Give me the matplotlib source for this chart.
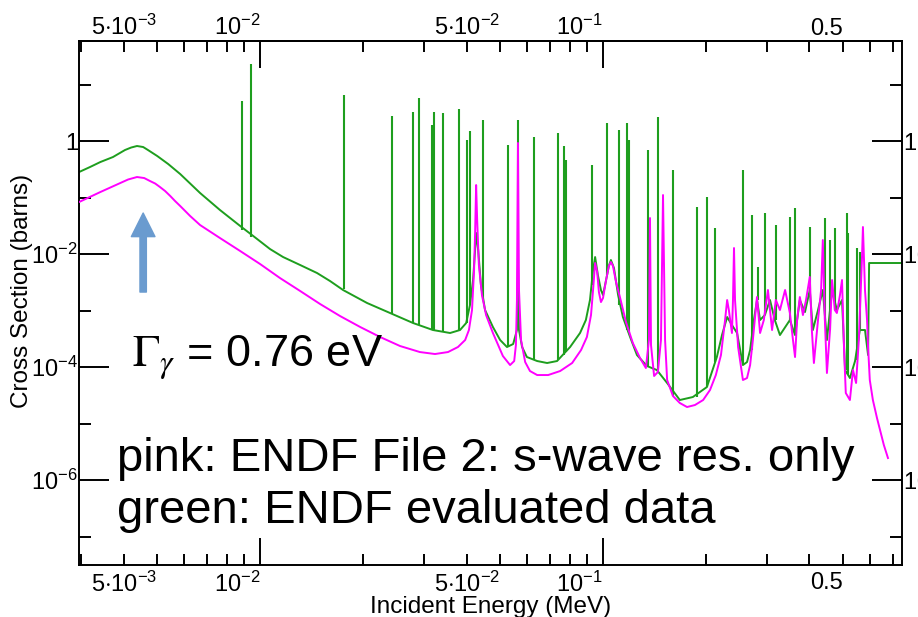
import numpy as np
import matplotlib
matplotlib.use("Agg")
import matplotlib.pyplot as plt
from matplotlib.ticker import FixedLocator, FuncFormatter

plt.rcParams['font.family'] = ['Liberation Sans', 'DejaVu Sans']
plt.rcParams['mathtext.fontset'] = 'custom'
plt.rcParams['mathtext.rm'] = 'Liberation Sans'
plt.rcParams['mathtext.it'] = 'Liberation Sans:italic'
plt.rcParams['mathtext.bf'] = 'Liberation Sans:bold'

# ---------------- data (log10 E [MeV], log10 sigma [barns]) -------------
pink_points = [
    (-2.528, -1.080), (-2.466, -0.903), (-2.437, -0.823), (-2.408, -0.743), (-2.385, -0.681),
    (-2.359, -0.637), (-2.338, -0.655), (-2.321, -0.708), (-2.306, -0.752), (-2.292, -0.814),
    (-2.277, -0.885), (-2.262, -0.973), (-2.248, -1.062), (-2.233, -1.150), (-2.204, -1.327),
    (-2.175, -1.487), (-2.117, -1.717),
    (-2.058, -1.947), (-2.000, -2.177), (-1.942, -2.425), (-1.883, -2.655), (-1.825, -2.885),
    (-1.767, -3.097), (-1.708, -3.292), (-1.650, -3.469), (-1.592, -3.628), (-1.534, -3.735),
    (-1.490, -3.770), (-1.452, -3.735), (-1.423, -3.646), (-1.402, -3.522), (-1.391, -3.345),
    (-1.382, -2.991), (-1.376, -2.283), (-1.373, -1.628), (-1.370, -0.779), (-1.367, -1.398),
    (-1.362, -2.195), (-1.353, -2.726), (-1.341, -3.080), (-1.321, -3.398), (-1.292, -3.805),
    (-1.271, -3.965), (-1.259, -3.894), (-1.254, -3.611), (-1.251, -2.814), (-1.248, -0.035),
    (-1.245, -2.637), (-1.239, -3.522), (-1.227, -3.912), (-1.213, -4.071), (-1.192, -4.142),
    (-1.160, -4.142), (-1.125, -4.071), (-1.090, -3.929), (-1.064, -3.699), (-1.047, -3.469),
    (-1.035, -3.080), (-1.029, -2.637), (-1.023, -2.159), (-1.017, -2.319), (-1.012, -2.673),
    (-1.006, -2.850), (-1.000, -2.779), (-0.991, -2.460), (-0.983, -2.212), (-0.977, -2.142),
    (-0.971, -2.212), (-0.962, -2.496), (-0.950, -2.779), (-0.933, -3.204), (-0.913, -3.575),
    (-0.892, -3.841), (-0.875, -4.018), (-0.866, -3.522), (-0.863, -1.363), (-0.860, -3.611),
    (-0.851, -4.159), (-0.840, -4.088), (-0.831, -3.522), (-0.825, -0.956), (-0.819, -3.522),
    (-0.813, -4.230), (-0.796, -4.513), (-0.776, -4.637), (-0.755, -4.708), (-0.732, -4.673),
    (-0.708, -4.584), (-0.688, -4.407), (-0.671, -4.142), (-0.656, -3.788), (-0.644, -3.168),
    (-0.638, -2.814), (-0.633, -2.991), (-0.624, -3.398), (-0.621, -2.814), (-0.618, -1.894),
    (-0.615, -2.814), (-0.606, -3.646), (-0.592, -4.230), (-0.580, -4.195), (-0.571, -3.965),
    (-0.563, -3.522), (-0.551, -2.761), (-0.542, -3.398), (-0.531, -3.168), (-0.519, -2.637),
    (-0.507, -3.345), (-0.496, -2.814), (-0.484, -2.991), (-0.469, -2.637), (-0.455, -3.044),
    (-0.446, -3.522), (-0.440, -3.823), (-0.434, -3.168), (-0.426, -2.761), (-0.417, -3.080),
    (-0.408, -2.814), (-0.397, -2.407), (-0.391, -3.345), (-0.385, -3.929), (-0.373, -3.168),
    (-0.364, -2.637), (-0.359, -1.752), (-0.353, -3.168), (-0.347, -4.106), (-0.338, -3.345),
    (-0.332, -2.460), (-0.324, -2.991), (-0.318, -3.044), (-0.309, -2.726), (-0.303, -2.460),
    (-0.297, -3.699), (-0.292, -4.460), (-0.280, -4.584), (-0.271, -4.053), (-0.262, -4.283),
    (-0.254, -3.522), (-0.245, -2.106), (-0.242, -1.522), (-0.236, -2.637), (-0.230, -3.168),
    (-0.227, -3.646), (-0.222, -4.230), (-0.213, -4.584), (-0.201, -4.903), (-0.192, -5.115),
    (-0.181, -5.381), (-0.169, -5.611),
]

green_points = [
    (-2.528, -0.549), (-2.496, -0.460), (-2.466, -0.372), (-2.429, -0.283), (-2.394, -0.159),
    (-2.376, -0.115), (-2.359, -0.088), (-2.341, -0.106), (-2.327, -0.159), (-2.300, -0.265),
    (-2.268, -0.407), (-2.233, -0.584), (-2.204, -0.752), (-2.175, -0.920),
    (-2.117, -1.221), (-2.058, -1.504), (-2.020, -1.681), (-1.971, -1.912), (-1.933, -2.053),
    (-1.883, -2.195), (-1.834, -2.336), (-1.796, -2.478), (-1.758, -2.637), (-1.688, -2.867),
    (-1.621, -3.044), (-1.554, -3.221), (-1.496, -3.345), (-1.446, -3.398), (-1.417, -3.345),
    (-1.399, -3.221), (-1.388, -2.903), (-1.379, -2.460), (-1.373, -1.929), (-1.370, -1.628),
    (-1.364, -1.929), (-1.356, -2.549), (-1.344, -2.991), (-1.321, -3.292), (-1.300, -3.522),
    (-1.280, -3.646), (-1.262, -3.593), (-1.251, -3.345), (-1.248, -2.159), (-1.245, -3.345),
    (-1.236, -3.646), (-1.222, -3.823), (-1.192, -3.894), (-1.163, -3.929), (-1.134, -3.894),
    (-1.096, -3.646), (-1.067, -3.398), (-1.050, -3.168), (-1.038, -2.814), (-1.029, -2.283),
    (-1.023, -2.053), (-1.015, -2.372), (-1.006, -2.637), (-1.000, -2.726), (-0.991, -2.460),
    (-0.983, -2.212), (-0.977, -2.106), (-0.968, -2.248), (-0.956, -2.726), (-0.942, -3.115),
    (-0.921, -3.469), (-0.901, -3.788), (-0.872, -3.982), (-0.843, -4.053), (-0.813, -4.283),
    (-0.776, -4.584), (-0.738, -4.531), (-0.697, -4.354), (-0.668, -3.823), (-0.653, -3.434),
    (-0.638, -3.115), (-0.624, -3.257), (-0.609, -3.398), (-0.592, -3.965), (-0.580, -3.912),
    (-0.571, -3.699), (-0.560, -3.168), (-0.551, -2.814), (-0.542, -3.168), (-0.528, -3.080),
    (-0.513, -2.814), (-0.499, -3.168), (-0.484, -3.434), (-0.455, -3.168), (-0.440, -3.434),
    (-0.426, -2.814), (-0.411, -3.027), (-0.397, -2.637), (-0.388, -3.345), (-0.373, -2.991),
    (-0.359, -2.637), (-0.347, -3.522), (-0.332, -2.637), (-0.318, -2.991), (-0.303, -2.814),
    (-0.294, -4.053), (-0.280, -4.195), (-0.265, -3.894), (-0.251, -3.345), (-0.236, -3.345),
    (-0.227, -3.788), (-0.224, -2.159), (-0.120, -2.159),
]

# narrow resonances of the evaluated data: (log10 E, log10 peak, log10 base)
green_spikes = [
    (-2.052, 0.708, -1.575), (-2.026, 1.363, -1.699), (-1.755, 0.814, -2.619),
    (-1.615, 0.442, -3.062), (-1.554, 0.513, -3.221), (-1.536, 0.761, -3.257),
    (-1.499, 0.283, -3.345), (-1.493, 0.513, -3.345), (-1.466, 0.496, -3.381),
    (-1.420, 0.566, -3.363), (-1.397, 0.018, -3.221), (-1.388, 0.177, -2.903),
    (-1.350, 0.372, -2.814), (-1.277, -0.071, -3.646), (-1.248, 0.372, -2.159),
    (-1.201, 0.071, -3.876), (-1.131, 0.142, -3.876), (-1.114, -0.088, -3.788),
    (-1.108, -0.336, -3.735), (-1.032, -0.425, -2.549), (-0.988, 0.319, -2.372),
    (-0.953, 0.195, -2.903), (-0.930, 0.319, -3.345), (-0.924, 0.018, -3.398),
    (-0.869, -0.159, -3.982), (-0.840, 0.425, -4.053), (-0.796, -0.513, -4.513),
    (-0.726, -1.168, -4.531), (-0.697, -0.991, -4.354), (-0.673, -1.540, -3.912),
    (-0.592, -0.513, -3.965), (-0.566, -1.310, -3.699), (-0.548, -2.230, -2.814),
    (-0.528, -1.274, -3.080), (-0.496, -1.487, -3.168), (-0.455, -1.345, -3.168),
    (-0.440, -1.186, -3.434), (-0.397, -1.522, -2.637), (-0.353, -1.363, -3.168),
    (-0.338, -1.752, -3.345), (-0.324, -1.540, -2.991), (-0.289, -1.274, -4.053),
    (-0.286, -1.628, -4.142), (-0.259, -1.894, -3.876), (-0.251, -1.965, -3.345),
]

x_major = [1e-2, 1e-1]
x_major_labels = [r'$\mathregular{10^{-2}}$', r'$\mathregular{10^{-1}}$']
x_minor = [3e-3, 4e-3, 5e-3, 6e-3, 7e-3, 8e-3, 9e-3,
           2e-2, 3e-2, 4e-2, 5e-2, 6e-2, 7e-2, 8e-2, 9e-2,
           0.2, 0.3, 0.4, 0.5, 0.6, 0.7]
x_minor_labels = {5e-3: r'5$\cdot$$\mathregular{10^{-3}}$',
                  5e-2: r'5$\cdot$$\mathregular{10^{-2}}$',
                  0.5: '0.5'}
y_major = [1, 1e-2, 1e-4, 1e-6]
y_major_labels = ['1', r'$\mathregular{10^{-2}}$', r'$\mathregular{10^{-4}}$', r'$\mathregular{10^{-6}}$']
y_minor = [10, 1e-1, 1e-3, 1e-5, 1e-7]

x_lim_log = (-2.528, -0.128)
y_lim_log = (-7.504, 1.770)

arrow_log_e = -2.341
arrow_log_tail = -2.673
arrow_log_tip = -1.274

GREEN = '#1e9e1e'
PINK = '#ff00ff'


def nearest_label(values, labels, v):
    i = min(range(len(values)), key=lambda k: abs(np.log10(values[k]) - np.log10(v)))
    return labels[i]


def minor_fmt(v, pos):
    for k, lab in x_minor_labels.items():
        if abs(np.log10(k) - np.log10(v)) < 1e-6:
            return lab
    return ''


def style_xaxis(axis_obj, pad):
    axis_obj.xaxis.set_major_locator(FixedLocator(x_major))
    axis_obj.xaxis.set_major_formatter(FuncFormatter(lambda v, p: nearest_label(x_major, x_major_labels, v)))
    axis_obj.xaxis.set_minor_locator(FixedLocator(x_minor))
    axis_obj.xaxis.set_minor_formatter(FuncFormatter(minor_fmt))
    axis_obj.tick_params(axis='x', which='both', direction='in', width=1.4, labelsize=17, pad=pad)
    axis_obj.tick_params(axis='x', which='major', length=19.5)
    axis_obj.tick_params(axis='x', which='minor', length=8)
    for t in axis_obj.xaxis.get_major_ticks() + axis_obj.xaxis.get_minor_ticks():
        t.label1.set_horizontalalignment('right')
        t.label2.set_horizontalalignment('right')


# ---------------- figure ----------------
fig = plt.figure(figsize=(9.18, 6.17), dpi=100)
ax = fig.add_axes([0.0861, 0.0843, 0.8965, 0.8492])
ax.set_xscale('log')
ax.set_yscale('log')

pe = 10 ** np.array([p[0] for p in pink_points])
px = 10 ** np.array([p[1] for p in pink_points])
ge = 10 ** np.array([p[0] for p in green_points])
gx = 10 ** np.array([p[1] for p in green_points])
se = 10 ** np.array([s[0] for s in green_spikes])
stop = 10 ** np.array([s[1] for s in green_spikes])
sbase = 10 ** np.array([s[2] for s in green_spikes])

ax.plot(ge, gx, color=GREEN, lw=1.4, zorder=2)
ax.vlines(se, sbase, stop, color=GREEN, lw=1.5, zorder=2)
ax.plot(pe, px, color=PINK, lw=1.4, zorder=3)

ax.set_xlim(10 ** x_lim_log[0], 10 ** x_lim_log[1])
ax.set_ylim(10 ** y_lim_log[0], 10 ** y_lim_log[1])

ax.tick_params(axis='x', which='both', top=False, labeltop=False)
style_xaxis(ax, pad=5)

sec = ax.secondary_xaxis('top')
style_xaxis(sec, pad=0.5)
sec.spines['top'].set_linewidth(1.4)

ax.yaxis.set_major_locator(FixedLocator(y_major))
ax.yaxis.set_major_formatter(FuncFormatter(lambda v, p: nearest_label(y_major, y_major_labels, v)))
ax.yaxis.set_minor_locator(FixedLocator(y_minor))
ax.yaxis.set_minor_formatter(FuncFormatter(lambda v, p: ''))
ax.tick_params(axis='y', which='both', direction='in', left=True, right=True,
               labelleft=True, labelright=True, width=1.4, labelsize=17, pad=0.8)
ax.tick_params(axis='y', which='major', length=21.5)
ax.tick_params(axis='y', which='minor', length=8.6)

for sp in ax.spines.values():
    sp.set_linewidth(1.4)

ax.set_xlabel('Incident Energy (MeV)', fontsize=17.5)
ax.xaxis.set_label_coords(0.5, -0.0595)
ax.set_ylabel('Cross Section (barns)', fontsize=17.5)
ax.yaxis.set_label_coords(-0.056, 0.523)

ax.annotate('', xy=(10 ** arrow_log_e, 10 ** arrow_log_tip),
            xytext=(10 ** arrow_log_e, 10 ** arrow_log_tail),
            arrowprops=dict(arrowstyle='simple,head_length=0.85,head_width=0.85,tail_width=0.23',
                            mutation_scale=20, color='#6a9bcf', shrinkA=0, shrinkB=0), zorder=4)

ax.text(0.0644, 0.378, r'$\Gamma_{\gamma}$ = 0.76 eV', transform=ax.transAxes,
        fontsize=32.5, math_fontfamily='stix', va='baseline', ha='left')
ax.text(0.0462, 0.179, 'pink: ENDF File 2: s-wave res. only', transform=ax.transAxes,
        fontsize=34, va='baseline', ha='left')
ax.text(0.0462, 0.080, 'green: ENDF evaluated data', transform=ax.transAxes,
        fontsize=34, va='baseline', ha='left')

fig.savefig('out.png', dpi=100)
